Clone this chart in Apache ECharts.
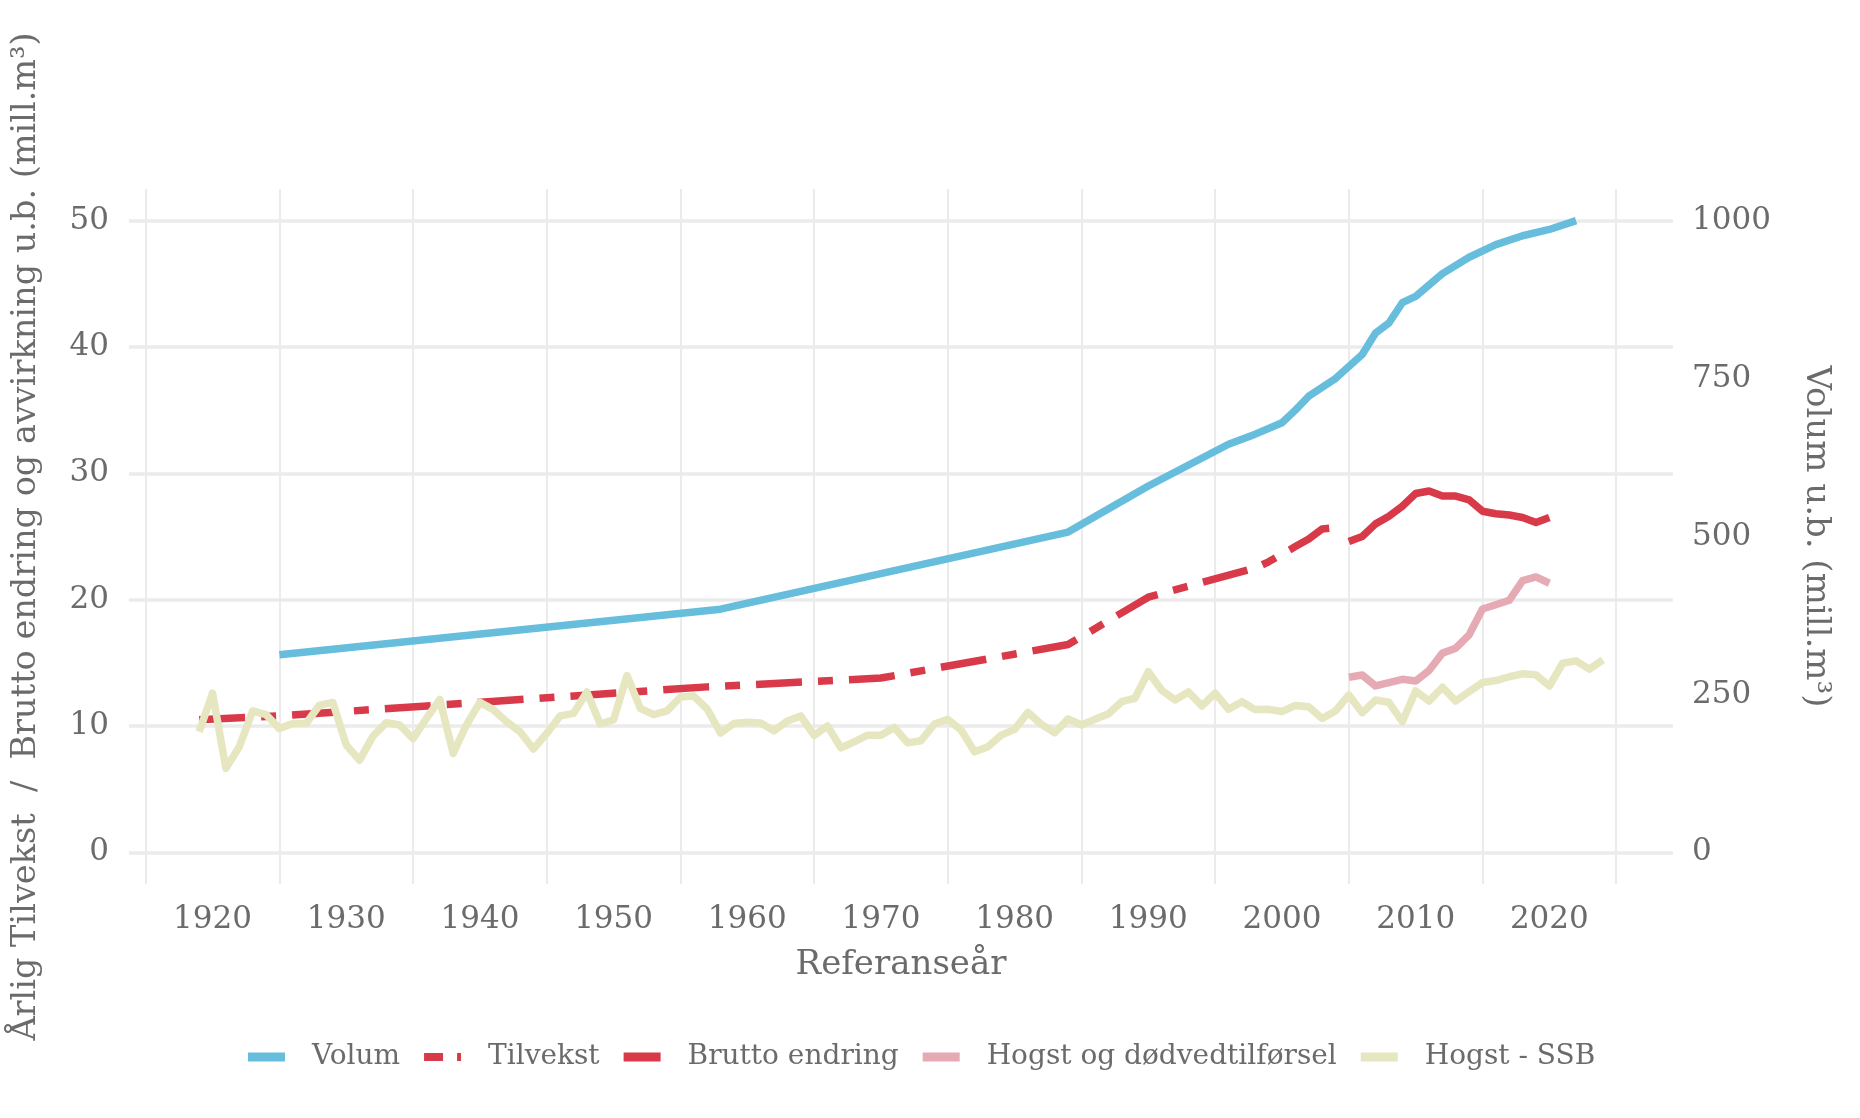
<!DOCTYPE html>
<html>
<head>
<meta charset="utf-8">
<script src="https://cdn.jsdelivr.net/npm/echarts@6/dist/echarts.min.js"></script>
<style>
html,body{margin:0;padding:0;background:#fff;}
#chart{width:1860px;height:1118px;}
</style>
</head>
<body>
<div id="chart"></div>
<script>
// ---- data ----
const xTickLabels = [1920, 1930, 1940, 1950, 1960, 1970, 1980, 1990, 2000, 2010, 2020];
const xGridYears = [1915, 1925, 1935, 1945, 1955, 1965, 1975, 1985, 1995, 2005, 2015, 2025];
const leftTicks = [0, 10, 20, 30, 40, 50];
const rightTicks = [0, 250, 500, 750, 1000];

// Volum u.b. (mill. m3), right axis
const volumYears  = [1925, 1958, 1984, 1990, 1996, 1998, 2000, 2001, 2002, 2004, 2006, 2007, 2008, 2009, 2010, 2012, 2014, 2016, 2018, 2020, 2022];
const volumValues = [313, 385, 507, 580, 646, 662, 680, 700, 722, 750, 788, 822, 838, 870, 880, 916, 942, 962, 976, 986, 1000];

// Tilvekst (mill. m3/år)
const tilvekstYears  = [1919, 1925, 1957, 1970, 1984, 1990, 1991, 1998, 1999, 2000, 2001, 2002, 2003, 2004];
const tilvekstValues = [10.5, 10.8, 13.1, 13.8, 16.45, 20.2, 20.5, 22.5, 23.0, 23.6, 24.2, 24.8, 25.6, 25.7];

// Brutto endring
const bruttoYears  = [2005, 2006, 2007, 2008, 2009, 2010, 2011, 2012, 2013, 2014, 2015, 2016, 2017, 2018, 2019, 2020];
const bruttoValues = [24.6, 25.0, 26.0, 26.6, 27.4, 28.4, 28.6, 28.2, 28.2, 27.9, 27.0, 26.8, 26.7, 26.5, 26.1, 26.5];

// Hogst og dødvedtilførsel
const hogstDodYears  = [2005, 2006, 2007, 2008, 2009, 2010, 2011, 2012, 2013, 2014, 2015, 2016, 2017, 2018, 2019, 2020];
const hogstDodValues = [13.86, 14.04, 13.17, 13.44, 13.7, 13.57, 14.4, 15.77, 16.16, 17.22, 19.26, 19.6, 19.95, 21.5, 21.8, 21.3];

// Hogst - SSB, yearly 1919-2024
const ssbFirstYear = 1919;
const ssbValues = [
  9.55, 12.6, 6.65, 8.36, 11.2, 10.9, 9.8, 10.2, 10.2, 11.66,
  11.87, 8.5, 7.3, 9.2, 10.26, 10.08, 9.0, 10.6, 12.1, 7.84,
  10.1, 11.87, 11.3, 10.34, 9.55, 8.18, 9.42, 10.8, 11.0, 12.7,
  10.16, 10.5, 14.0, 11.4, 10.9, 11.2, 12.3, 12.37, 11.35, 9.45,
  10.2, 10.3, 10.25, 9.62, 10.4, 10.8, 9.26, 10.0, 8.28, 8.75,
  9.28, 9.28, 9.89, 8.68, 8.84, 10.16, 10.53, 9.68, 7.96, 8.36,
  9.28, 9.74, 11.08, 10.13, 9.47, 10.56, 10.08, 10.53, 10.95, 11.93,
  12.2, 14.3, 12.83, 12.06, 12.7, 11.59, 12.6, 11.33, 11.93, 11.3,
  11.32, 11.15, 11.63, 11.53, 10.6, 11.19, 12.46, 11.06, 12.06, 11.88,
  10.34, 12.78, 11.98, 13.07, 11.98, 12.72, 13.44, 13.6, 13.9, 14.13,
  14.05, 13.17, 14.97, 15.16, 14.5, 15.24
];

// ---- build ----
function pairs(xs, ys) { return xs.map((x, i) => [x, ys[i]]); }
const ssbData = ssbValues.map((v, i) => [ssbFirstYear + i, v]);

const FONT = '"DejaVu Serif", "Liberation Serif", serif';
const TXT = '#6b6b6b';
const GRIDC = '#ebebeb';
const BLUE = '#66bddc', RED = '#d93a49', PINK = '#e5aab4', BEIGE = '#e6e6c0';

const chart = echarts.init(document.getElementById('chart'), null, {renderer: 'canvas'});
const lw = 7.5;
const plain = v => String(v);
const option = {
  animation: false,
  backgroundColor: '#ffffff',
  textStyle: {fontFamily: FONT, color: TXT},
  grid: {left: 129, right: 187, top: 189, bottom: 234, containLabel: false},
  legend: {
    top: 1038,
    left: 243,
    itemWidth: 37,
    itemHeight: 9,
    itemGap: 24,
    textStyle: {fontFamily: FONT, color: TXT, fontSize: 28, padding: [0, 0, 0, 22]},
    data: [
      {name: 'Volum', icon: 'rect'},
      {name: 'Tilvekst', icon: 'path://M0,0H19V8H0Z M33,0H37V8H33Z'},
      {name: 'Brutto endring', icon: 'rect'},
      {name: 'Hogst og dødvedtilførsel', icon: 'rect'},
      {name: 'Hogst - SSB', icon: 'rect'}
    ]
  },
  xAxis: {
    type: 'value',
    min: 1913.75,
    max: 2029.25,
    name: 'Referanseår',
    nameLocation: 'middle',
    nameGap: 64,
    nameTextStyle: {fontFamily: FONT, color: TXT, fontSize: 34},
    axisLine: {show: false},
    axisTick: {show: false, customValues: xGridYears},
    axisLabel: {customValues: xTickLabels, fontFamily: FONT, color: TXT, fontSize: 31, margin: 20, formatter: plain},
    splitLine: {show: true, lineStyle: {color: GRIDC, width: 2}}
  },
  yAxis: [
    {
      type: 'value',
      min: -2.5,
      max: 52.5,
      name: 'Årlig Tilvekst  /  Brutto endring og avvirkning u.b. (mill.m³)',
      nameLocation: 'middle',
      nameGap: 86,
      nameTextStyle: {fontFamily: FONT, color: TXT, fontSize: 33.5},
      axisLine: {show: false},
      axisTick: {show: false, customValues: leftTicks},
      axisLabel: {customValues: leftTicks, fontFamily: FONT, color: TXT, fontSize: 31, margin: 20, formatter: plain},
      splitLine: {show: true, lineStyle: {color: GRIDC, width: 3.5}}
    },
    {
      type: 'value',
      position: 'right',
      min: -50,
      max: 1050,
      name: 'Volum u.b. (mill.m³)',
      nameLocation: 'middle',
      nameGap: 126,
      nameRotate: -90,
      nameTextStyle: {fontFamily: FONT, color: TXT, fontSize: 34},
      axisLine: {show: false},
      axisTick: {show: false, customValues: rightTicks},
      axisLabel: {customValues: rightTicks, fontFamily: FONT, color: TXT, fontSize: 31, margin: 19, formatter: plain},
      splitLine: {show: false}
    }
  ],
  series: [
    {
      name: 'Volum', type: 'line', yAxisIndex: 1, showSymbol: false, symbol: 'none',
      data: pairs(volumYears, volumValues),
      itemStyle: {color: BLUE},
      lineStyle: {color: BLUE, width: lw, join: 'round', cap: 'butt'}, z: 2
    },
    {
      name: 'Tilvekst', type: 'line', yAxisIndex: 0, showSymbol: false, symbol: 'none',
      data: pairs(tilvekstYears, tilvekstValues),
      itemStyle: {color: RED},
      lineStyle: {color: RED, width: lw, type: [46, 16, 15, 16], join: 'round', cap: 'butt'}, z: 3
    },
    {
      name: 'Brutto endring', type: 'line', yAxisIndex: 0, showSymbol: false, symbol: 'none',
      data: pairs(bruttoYears, bruttoValues),
      itemStyle: {color: RED},
      lineStyle: {color: RED, width: lw, join: 'round', cap: 'butt'}, z: 3
    },
    {
      name: 'Hogst og dødvedtilførsel', type: 'line', yAxisIndex: 0, showSymbol: false, symbol: 'none',
      data: pairs(hogstDodYears, hogstDodValues),
      itemStyle: {color: PINK},
      lineStyle: {color: PINK, width: lw, join: 'round', cap: 'butt'}, z: 4
    },
    {
      name: 'Hogst - SSB', type: 'line', yAxisIndex: 0, showSymbol: false, symbol: 'none',
      data: ssbData,
      itemStyle: {color: BEIGE},
      lineStyle: {color: BEIGE, width: lw, join: 'round', cap: 'butt'}, z: 5
    }
  ]
};
chart.setOption(option);
</script>
</body>
</html>
